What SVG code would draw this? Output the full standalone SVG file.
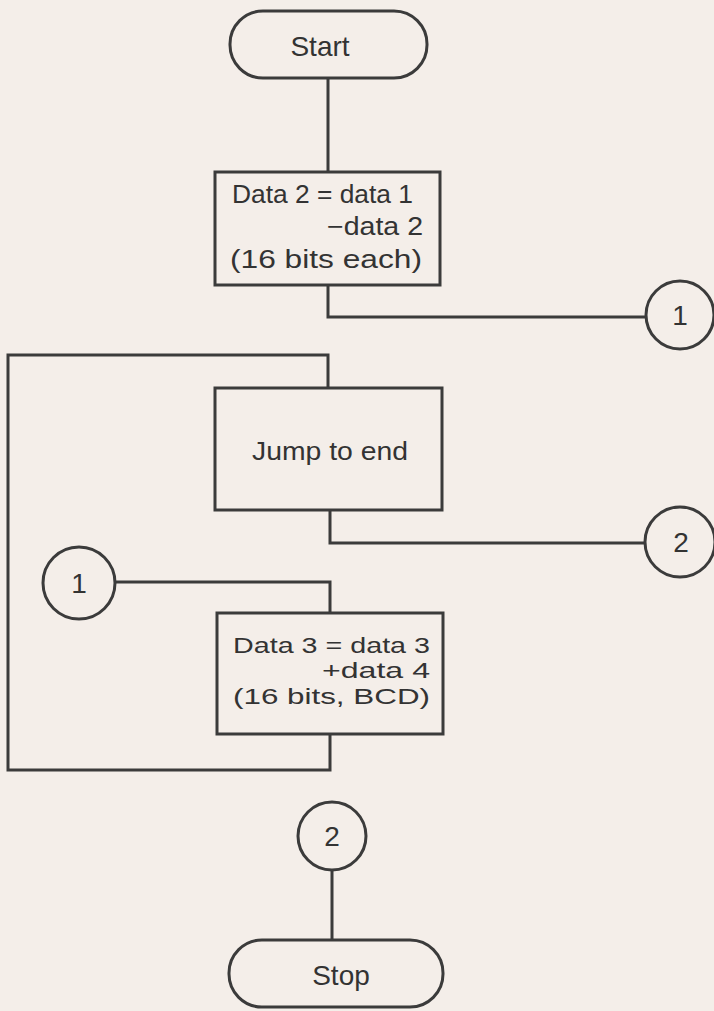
<svg xmlns="http://www.w3.org/2000/svg" width="714" height="1011" viewBox="0 0 714 1011">
<style>
.s{fill:none;stroke:#3b3b3b;stroke-width:3;stroke-linejoin:miter}
.n{fill:#f4eee9;stroke:#3b3b3b;stroke-width:3}
.t{font-family:"Liberation Sans",Arial,sans-serif;fill:#333;font-size:25px}
.t3{font-family:"Liberation Sans",Arial,sans-serif;fill:#333;font-size:22px}
.c{font-family:"Liberation Sans",Arial,sans-serif;fill:#333;font-size:28px}
.tl{font-family:"Liberation Sans",Arial,sans-serif;fill:#333;font-size:28px}
</style>
<rect width="714" height="1011" fill="#f4eee9"/>
<g id="connectors">
<path class="s" d="M328,78 V172"/>
<path class="s" d="M328,285 V317 H647"/>
<path class="s" d="M328,388 V355 H8 V770 H330 V734"/>
<path class="s" d="M330,510 V543 H645"/>
<path class="s" d="M115,582 H330 V613"/>
<path class="s" d="M332,870 V940"/>
</g>
<g id="start">
<rect class="n" x="230" y="11" width="197" height="67" rx="33"/>
<text class="tl" x="320" y="56" text-anchor="middle">Start</text>
</g>
<g id="box1">
<rect class="n" x="215" y="172" width="225" height="113"/>
<text class="t" x="232" y="203" textLength="181" lengthAdjust="spacingAndGlyphs">Data 2 = data 1</text>
<text class="t" x="327" y="235" textLength="96" lengthAdjust="spacingAndGlyphs">−data 2</text>
<text class="t" x="230" y="268" textLength="192" lengthAdjust="spacingAndGlyphs">(16  bits each)</text>
</g>
<g id="conn1-out">
<circle class="n" cx="680" cy="315" r="34"/>
<text class="c" x="680" y="325" text-anchor="middle">1</text>
</g>
<g id="box2">
<rect class="n" x="215" y="388" width="227" height="122"/>
<text class="t" x="252" y="460" textLength="156" lengthAdjust="spacingAndGlyphs">Jump to end</text>
</g>
<g id="conn2-out">
<circle class="n" cx="680" cy="542" r="35"/>
<text class="c" x="681" y="552" text-anchor="middle">2</text>
</g>
<g id="conn1-in">
<circle class="n" cx="79" cy="583" r="36"/>
<text class="c" x="79" y="593" text-anchor="middle">1</text>
</g>
<g id="box3">
<rect class="n" x="217" y="613" width="226" height="121"/>
<text class="t3" x="233" y="653" textLength="197" lengthAdjust="spacingAndGlyphs">Data 3 = data 3</text>
<text class="t3" x="322" y="678" textLength="108" lengthAdjust="spacingAndGlyphs">+data 4</text>
<text class="t3" x="233" y="704" textLength="197" lengthAdjust="spacingAndGlyphs">(16 bits, BCD)</text>
</g>
<g id="conn2-in">
<circle class="n" cx="332" cy="836" r="34"/>
<text class="c" x="332" y="846" text-anchor="middle">2</text>
</g>
<g id="stop">
<rect class="n" x="229" y="940" width="214" height="67" rx="33"/>
<text class="tl" x="341" y="985" text-anchor="middle">Stop</text>
</g>
</svg>
